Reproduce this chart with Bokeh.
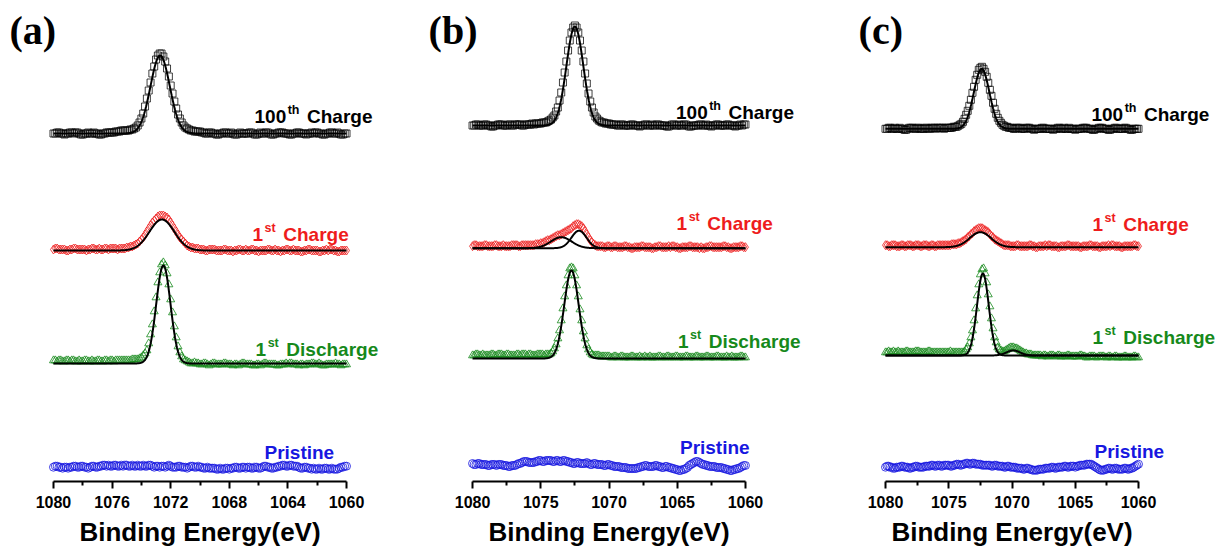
import numpy as np
from bokeh.plotting import figure
from bokeh.layouts import row
from bokeh.models import Range1d, FixedTicker
from bokeh.core.properties import value
from bokeh.embed import file_html
from bokeh.resources import INLINE

# ---------------- data: binding energy grid (eV) ----------------
ENERGY = [
    1080.0, 1079.875, 1079.75, 1079.625, 1079.5, 1079.375, 1079.25, 1079.125,
    1079.0, 1078.875, 1078.75, 1078.625, 1078.5, 1078.375, 1078.25, 1078.125,
    1078.0, 1077.875, 1077.75, 1077.625, 1077.5, 1077.375, 1077.25, 1077.125,
    1077.0, 1076.875, 1076.75, 1076.625, 1076.5, 1076.375, 1076.25, 1076.125,
    1076.0, 1075.875, 1075.75, 1075.625, 1075.5, 1075.375, 1075.25, 1075.125,
    1075.0, 1074.875, 1074.75, 1074.625, 1074.5, 1074.375, 1074.25, 1074.125,
    1074.0, 1073.875, 1073.75, 1073.625, 1073.5, 1073.375, 1073.25, 1073.125,
    1073.0, 1072.875, 1072.75, 1072.625, 1072.5, 1072.375, 1072.25, 1072.125,
    1072.0, 1071.875, 1071.75, 1071.625, 1071.5, 1071.375, 1071.25, 1071.125,
    1071.0, 1070.875, 1070.75, 1070.625, 1070.5, 1070.375, 1070.25, 1070.125,
    1070.0, 1069.875, 1069.75, 1069.625, 1069.5, 1069.375, 1069.25, 1069.125,
    1069.0, 1068.875, 1068.75, 1068.625, 1068.5, 1068.375, 1068.25, 1068.125,
    1068.0, 1067.875, 1067.75, 1067.625, 1067.5, 1067.375, 1067.25, 1067.125,
    1067.0, 1066.875, 1066.75, 1066.625, 1066.5, 1066.375, 1066.25, 1066.125,
    1066.0, 1065.875, 1065.75, 1065.625, 1065.5, 1065.375, 1065.25, 1065.125,
    1065.0, 1064.875, 1064.75, 1064.625, 1064.5, 1064.375, 1064.25, 1064.125,
    1064.0, 1063.875, 1063.75, 1063.625, 1063.5, 1063.375, 1063.25, 1063.125,
    1063.0, 1062.875, 1062.75, 1062.625, 1062.5, 1062.375, 1062.25, 1062.125,
    1062.0, 1061.875, 1061.75, 1061.625, 1061.5, 1061.375, 1061.25, 1061.125,
    1061.0, 1060.875, 1060.75, 1060.625, 1060.5, 1060.375, 1060.25, 1060.125,
    1060.0]

# ---- panel (a) intensities (a.u., above each trace's fitted background) ----
A_100TH = [
    0, 0, 1, 1, 0, 0, -1, 0,   0, 1, 1, 0, 1, 1, 0, -1,   -1, 0, 0, 1, 0, 0, 1, 0,
    0, -1, -1, 0, 0, 1, 1, 1,   1, 1, 2, 2, 2, 3, 3, 3,   3, 3, 4, 4, 5, 6, 8, 11,
    15, 20, 27, 35, 43, 51, 60, 67,   74, 78, 80, 80, 77, 72, 65, 57,
    48, 40, 32, 25, 19, 15, 11, 8,   6, 5, 4, 3, 3, 2, 2, 2,   2, 1, 1, 0, 0, 1, 1, 0,
    0, -1, -1, 0, 0, 1, 1, 0,   0, 1, 0, -1, -1, 0, 1, 0,   0, 0, 0, 1, 1, 0, -1, -1,
    0, 1, 0, 0, 1, 1, 0, -1,   -1, 0, 0, 1, 1, 1, 0, 0,   0, -1, -1, 0, 0, 1, 1, 0,
    0, 0, -1, 0, 0, 1, 0, 1,   1, 0, 0, -1, -1, 0, 0, 1,   1, 0, 0, 1, 0, -1, -1, 0,
    0]
A_1ST_CH = [
    1, 2, 2, 1, 1, 1, 1, 0,   0, 1, 1, 2, 2, 1, 1, 1,   1, 1, 0, 1, 1, 2, 2, 1,
    1, 2, 1, 1, 2, 2, 1, 2,   2, 2, 2, 1, 2, 2, 2, 2,   3, 3, 4, 4, 5, 6, 7, 9,
    11, 13, 16, 19, 22, 25, 28, 30,   32, 34, 35, 35, 35, 34, 33, 31,
    28, 25, 22, 19, 16, 13, 11, 9,   7, 5, 4, 3, 3, 2, 2, 2,   1, 1, 1, 0, 0, 1, 1, 1,
    1, 0, 0, 0, 0, 1, 1, 0,   0, 0, -1, 0, 0, 1, 1, 0,   0, 1, 0, 0, 1, 1, 0, 0,
    -1, 0, 0, 0, 0, 1, 1, 0,   0, 1, 0, 0, -1, 0, 0, 1,   1, 0, 0, 1, 0, 0, 0, -1,
    -1, 0, 0, 1, 1, 0, 0, 0,   0, -1, -1, 0, 0, 1, 0, 1,   1, 0, 0, -1, -1, 0, 0, 0,
    0]
A_1ST_DIS = [
    3, 3, 2, 3, 3, 2, 2, 3,   3, 2, 3, 3, 2, 2, 3, 2,   2, 3, 3, 2, 2, 3, 2, 2,
    3, 3, 2, 2, 3, 3, 2, 3,   3, 2, 3, 3, 3, 3, 3, 3,   3, 3, 3, 4, 4, 4, 4, 5,
    6, 8, 10, 13, 20, 29, 39, 52,   66, 81, 91, 99, 101, 98, 90, 79,
    64, 51, 37, 26, 17, 11, 7, 4,   3, 2, 1, 0, 0, 1, 0, 0,   -1, -1, 0, 0, -1, -2, -1, 0,
    0, -1, -1, -1, -1, 0, 0, -1,   -1, -1, -2, -1, -1, -2, -1, 0,   0, -1, -1, -1, -1, -2, -2, -1,
    -1, -2, -1, 0, 0, -1, -1, -1,   -1, -1, -2, -2, -1, -1, -1, 0,   -1, 0, 0, -1, -1, -1, -2, -1,
    -1, -2, -1, -1, -1, 0, 0, -1,   -1, 0, -1, -2, -2, -1, -1, -1,   -1, -1, 0, -1, -1, -2, -1, -1,
    -1]
A_PRIST = [
    0, 1, 1, 0, 0, -1, 0, 0,   -1, 0, 0, 1, 1, 0, 0, 1,   1, 0, 0, -1, 0, 1, 1, 0,
    0, 1, 1, 2, 2, 1, 2, 1,   1, 2, 2, 1, 1, 2, 1, 2,   2, 1, 1, 2, 1, 1, 2, 1,
    1, 2, 1, 1, 2, 2, 1, 0,   1, 1, 0, 1, 1, 0, 1, 2,   1, 0, 0, 0, 1, 1, 0, 0,
    0, -1, 0, 1, 1, 0, 0, 1,   0, 0, -1, -1, 0, -1, -1, -1,   -1, -2, -2, -1, -2, -2, -1, -1,
    -2, -1, -1, 0, 0, -1, -1, 0,   0, -1, 0, 0, -1, -1, 0, 0,   -1, -1, 0, 1, 1, 0, 0, -1,
    -1, 0, 0, 1, 1, 2, 2, 1,   1, 2, 2, 1, 1, 1, 0, -1,   -1, 0, 0, -1, -1, -2, -1, -2,
    -2, -1, -2, -2, -1, -1, -2, -2,   -1, -2, -2, -2, -1, 0, 0, 1,
    1]

# ---- panel (b) ----
B_100TH = [
    0, 0, 1, 1, 0, 0, 0, 1,   1, 0, 0, -1, -1, 0, 0, 1,   1, 1, 0, 0, 0, 1, 1, 0,
    0, 1, 1, 1, 1, 0, 0, 1,   1, 1, 1, 2, 1, 2, 2, 2,   2, 3, 3, 3, 4, 5, 6, 8,
    10, 14, 18, 25, 33, 43, 53, 64,   75, 85, 93, 98, 100, 98, 93, 85,
    75, 64, 52, 42, 32, 24, 18, 13,   9, 7, 5, 4, 3, 3, 2, 2,   2, 1, 1, 1, 1, 0, 0, 1,
    1, 0, 0, 0, 0, 1, 1, 0,   0, 0, -1, 0, 0, 1, 1, 0,   0, 1, 0, 0, 1, 1, 0, 0,
    0, 0, -1, -1, 0, 1, 1, 0,   0, 1, 0, 0, 1, 1, 0, -1,   -1, 0, 0, 0, 0, 1, 1, 0,
    0, 1, 0, 0, -1, 0, 0, 1,   1, 0, 0, 0, 0, 1, 1, 0,   0, 0, -1, 0, 0, 1, 0, 1,
    1]
B_1ST_CH = [
    2, 3, 3, 2, 2, 2, 2, 3,   3, 2, 2, 2, 2, 3, 3, 2,   2, 2, 3, 2, 2, 2, 2, 3,
    3, 3, 3, 2, 2, 3, 3, 3,   3, 3, 3, 3, 3, 4, 4, 4,   5, 5, 6, 7, 8, 8, 9, 10,
    11, 12, 13, 13, 14, 15, 16, 17,   18, 19, 20, 22, 23, 24, 24, 23,
    22, 20, 17, 14, 11, 8, 6, 4,   3, 2, 2, 2, 2, 1, 1, 2,   2, 1, 1, 2, 2, 1, 1, 1,
    1, 2, 2, 1, 1, 0, 0, 1,   1, 1, 1, 2, 2, 1, 1, 1,   1, 0, 0, 1, 1, 2, 2, 1,
    1, 1, 1, 2, 1, 2, 2, 1,   1, 0, 0, 1, 1, 1, 1, 2,   2, 1, 1, 1, 1, 0, 1, 0,
    0, 1, 1, 2, 2, 1, 1, 1,   1, 1, 1, 2, 2, 1, 1, 0,   0, 1, 1, 1, 1, 2, 2, 1,
    1]
B_1ST_DIS = [
    3, 3, 4, 4, 3, 3, 4, 3,   3, 3, 3, 4, 4, 3, 3, 4,   4, 4, 3, 3, 4, 4, 3, 3,
    3, 3, 4, 4, 3, 4, 4, 4,   3, 4, 4, 3, 3, 3, 4, 4,   4, 4, 3, 4, 4, 4, 5, 7,
    10, 14, 20, 28, 38, 50, 62, 73,   83, 90, 91, 90, 83, 73, 62, 49,
    38, 27, 20, 13, 9, 6, 4, 3,   3, 3, 3, 2, 2, 2, 2, 2,   2, 1, 1, 2, 2, 1, 1, 2,
    2, 1, 1, 1, 1, 2, 2, 1,   1, 1, 2, 1, 1, 2, 1, 1,   2, 1, 1, 1, 1, 2, 2, 1,
    1, 1, 2, 2, 1, 1, 1, 2,   2, 1, 1, 1, 1, 2, 2, 1,   1, 1, 1, 2, 2, 1, 1, 1,
    1, 2, 2, 1, 1, 1, 1, 2,   2, 1, 1, 1, 1, 2, 1, 1,   2, 1, 1, 1, 1, 2, 2, 1,
    1]
B_PRIST = [
    2, 1, 1, 2, 2, 1, 1, 1,   1, 0, 0, 1, 1, 1, 0, 1,   1, 1, 0, 0, 0, -1, -1, 0,
    0, 0, 1, 2, 2, 3, 4, 4,   4, 3, 3, 3, 3, 4, 4, 5,   5, 4, 4, 5, 5, 5, 5, 4,
    4, 5, 5, 4, 4, 5, 5, 4,   4, 3, 3, 2, 2, 3, 3, 2,   2, 2, 2, 3, 2, 1, 1, 2,
    2, 1, 1, 1, 1, 0, 0, 1,   1, 0, 0, -1, -1, -1, -1, -2,   -2, -2, -2, -3, -3, -3, -3, -3,
    -3, -2, -2, -1, -1, 0, 0, -1,   -1, -1, -1, 0, 0, -1, -1, -2,   -2, -1, -1, -2, -2, -3, -3, -4,
    -4, -5, -5, -4, -4, -3, -2, 0,   1, 2, 3, 4, 4, 3, 2, 1,   1, 0, 0, -1, -1, -1, -1, -2,
    -2, -2, -2, -3, -3, -4, -4, -5,   -5, -4, -4, -3, -3, -2, -1, 0,
    0]

# ---- panel (c) ----
C_100TH = [
    0, 0, 1, 1, 0, 0, 1, 0,   0, 1, 0, 0, -1, -1, 0, 1,   1, 1, 0, 0, 1, 1, 0, 0,
    0, 1, 1, 0, 0, 1, 1, 1,   0, 1, 1, 1, 1, 0, 1, 1,   1, 1, 1, 2, 2, 2, 3, 4,
    5, 7, 10, 14, 18, 23, 29, 36,   42, 49, 54, 59, 61, 62, 60, 57,
    52, 46, 39, 33, 26, 20, 15, 11,   8, 6, 4, 3, 2, 2, 1, 1,   1, 0, 0, 1, 1, 1, 0, 0,
    0, 1, 1, 1, 0, 0, -1, 0,   0, 0, 0, 1, 1, 0, 0, 0,   0, 0, -1, 0, 0, 1, 1, 0,
    0, 1, 0, 0, 1, 0, 0, 0,   -1, 0, 0, 0, 0, 1, 1, 1,   0, 0, 0, -1, -1, 0, 0, 1,
    1, 1, 0, 0, 0, -1, -1, 0,   0, 1, 1, 0, 0, 0, 0, 1,   1, 0, 0, -1, -1, 0, 0, 0,
    0]
C_1ST_CH = [
    2, 2, 1, 1, 2, 2, 2, 1,   1, 1, 2, 2, 1, 1, 2, 2,   2, 1, 1, 2, 2, 2, 1, 1,
    2, 2, 2, 1, 1, 2, 2, 1,   1, 2, 2, 2, 2, 2, 2, 2,   2, 2, 3, 3, 3, 3, 4, 4,
    5, 6, 7, 8, 10, 11, 13, 14,   16, 17, 18, 19, 19, 19, 18, 17,
    16, 15, 13, 11, 10, 8, 7, 6,   5, 4, 3, 2, 2, 2, 2, 1,   1, 1, 1, 2, 2, 1, 1, 1,
    1, 1, 1, 2, 2, 1, 1, 0,   0, 1, 1, 1, 1, 2, 1, 2,   2, 1, 1, 1, 1, 0, 0, 1,
    1, 1, 1, 2, 2, 1, 1, 1,   1, 1, 1, 0, 0, 1, 1, 1,   1, 2, 2, 1, 1, 1, 1, 0,
    0, 1, 1, 1, 1, 2, 1, 2,   2, 1, 1, 1, 1, 0, 0, 1,   1, 1, 1, 1, 1, 2, 2, 1,
    1]
C_1ST_DIS = [
    3, 3, 4, 3, 3, 4, 3, 3,   4, 3, 3, 3, 3, 4, 4, 3,   3, 3, 3, 4, 4, 4, 3, 3,
    3, 3, 3, 4, 4, 3, 3, 3,   3, 3, 3, 3, 3, 3, 3, 3,   3, 4, 3, 3, 3, 3, 3, 3,
    3, 3, 4, 6, 8, 12, 18, 25,   35, 47, 60, 71, 81, 86, 87, 82,
    73, 61, 49, 37, 27, 18, 13, 8,   6, 5, 4, 4, 5, 6, 7, 8,   8, 8, 7, 7, 6, 5, 4, 3,
    2, 2, 1, 1, 1, 0, 0, 0,   0, 0, 0, -1, 0, 0, -1, -1,   0, 0, 0, -1, -1, 0, 0, -1,
    -1, -1, -1, 0, 0, -1, -1, -1,   -1, -1, -1, 0, 0, -1, -1, -2,   -2, -1, -1, -1, -1, -2, -2, -1,
    -1, -1, -1, -2, -2, -1, -1, -2,   -2, -1, -1, -2, -2, -2, -2, -1,   -1, -2, -2, -2, -2, -1, -1, -2,
    -2]
C_PRIST = [
    0, 1, 1, 0, 0, -1, -1, 0,   0, 0, 1, 1, 0, 0, 0, -1,   -1, 0, 0, 1, 1, 0, 0, 0,
    0, 1, 1, 1, 1, 2, 2, 1,   1, 2, 2, 1, 1, 2, 2, 2,   2, 1, 1, 2, 2, 3, 3, 2,
    2, 3, 3, 4, 4, 3, 3, 4,   4, 3, 3, 3, 3, 2, 2, 2,   2, 2, 2, 1, 1, 2, 2, 1,
    1, 1, 1, 0, 0, 1, 1, 0,   0, 0, 0, -1, -1, -1, -1, -2,   -2, -1, -1, -2, -2, -3, -3, -3,
    -3, -2, -2, -2, -2, -1, -1, -1,   -1, 0, 0, -1, -1, 0, 0, 0,   0, 1, 1, 0, 0, 1, 1, 1,
    0, 1, 1, 2, 2, 2, 2, 3,   3, 3, 3, 2, 1, 0, -1, -2,   -3, -3, -3, -2, -2, -1, -1, -2,
    -2, -1, -1, -2, -2, -2, -2, -1,   -1, -2, -2, -1, -1, 0, 1, 2,
    3]

# fitted peak components: [centre (eV), FWHM (eV), height]
A_100TH_FIT = [[1072.72, 1.55, 78]]
A_1ST_CH_FIT = [[1072.6, 2.0, 31]]
A_1ST_DIS_FIT = [[1072.5, 1.15, 98]]
B_100TH_FIT = [[1072.5, 1.45, 99]]
B_1ST_CH_FIT = [[1072.2, 1.3, 17.5], [1073.5, 1.8, 11]]
B_1ST_DIS_FIT = [[1072.75, 1.25, 88]]
C_100TH_FIT = [[1072.4, 1.45, 60]]
C_1ST_CH_FIT = [[1072.5, 2.0, 15]]
C_1ST_DIS_FIT = [[1072.3, 1.1, 82], [1069.9, 1.3, 5]]

A_TICKS = [1080, 1076, 1072, 1068, 1064, 1060]
A_MINOR = [1078, 1074, 1070, 1066, 1062]
BC_TICKS = [1080, 1075, 1070, 1065, 1060]
BC_MINOR = [1077.5, 1072.5, 1067.5, 1062.5]

FONT = value("Liberation Sans")
FIT_E = np.linspace(1080, 1060, 801)
RED, GREEN, BLUE = "#ee1c1c", "#16891b", "#1717e0"


def gauss(e, c, w, h):
    return h * np.exp(-4.0 * np.log(2.0) * ((e - c) / w) ** 2)


def make_panel(x0, x1, fw, bl, br, ticks, minors, tag, tag_x, series, labels):
    p = figure(frame_width=fw, frame_height=473,
               x_range=Range1d(x0, x1), y_range=Range1d(0, 473),
               output_backend="svg", toolbar_location=None, y_axis_location=None,
               min_border_left=bl, min_border_right=br, min_border_top=8,
               min_border_bottom=65, outline_line_color=None,
               background_fill_color="white", border_fill_color="white")
    p.grid.visible = False
    ax = p.xaxis[0]
    ax.ticker = FixedTicker(ticks=ticks, minor_ticks=minors)
    ax.bounds = (1060, 1080)
    ax.axis_line_width = 2
    ax.major_tick_line_width = 2
    ax.minor_tick_line_width = 2
    ax.major_tick_out = 7
    ax.major_tick_in = 0
    ax.minor_tick_out = 4
    ax.minor_tick_in = 0
    ax.major_label_standoff = 7
    ax.major_label_text_font = "Liberation Sans"
    ax.major_label_text_font_style = "bold"
    ax.major_label_text_font_size = "16px"
    ax.major_label_text_color = "black"
    ax.axis_label = "Binding Energy(eV)"
    ax.axis_label_text_font = "Liberation Sans"
    ax.axis_label_text_font_style = "bold"
    ax.axis_label_text_font_size = "26px"
    ax.axis_label_text_color = "black"
    ax.axis_label_standoff = 6

    e = np.array(ENERGY)
    for vals, off, marker, size, color, alpha, fits in series:
        y = off + np.array(vals, dtype=float)
        p.scatter(e, y, marker=marker, size=size, fill_color=None,
                  line_color=color, line_width=1, line_alpha=alpha)
        for c, w, h in fits:
            p.line(FIT_E, off + gauss(FIT_E, c, w, h), line_color="black", line_width=2)

    p.text(x=[tag_x], y=[451], text=[tag], text_font=value("Liberation Serif"),
           text_font_style="bold", text_font_size="40px", text_color="black",
           text_baseline="alphabetic", text_align="left")

    for x, y, main, sup, rest, color in labels:
        y = y + 6
        kw = dict(text_font=FONT, text_font_style="bold", text_color=color,
                  text_baseline="alphabetic", text_align="left")
        p.text(x=[x], y=[y], text=[main], text_font_size="19px", **kw)
        if sup:
            mw = 31.7 if main == "100" else 10.6
            sw = 11.3 if sup == "th" else 10.7
            p.text(x=[x], y=[y], text=[sup], text_font_size="12.5px",
                   x_offset=mw + 1.5, y_offset=-7, **kw)
            p.text(x=[x], y=[y], text=[rest], text_font_size="19px",
                   x_offset=mw + 1.5 + sw + 8, **kw)
    return p


pa = make_panel(1083.07, 1056.93, 383, 8, 21, A_TICKS, A_MINOR, "(a)", 1083.0, [
    (A_100TH, 348, "square", 7, "black", 0.75, A_100TH_FIT),
    (A_1ST_CH, 231, "diamond", 9, RED, 0.8, A_1ST_CH_FIT),
    (A_1ST_DIS, 118, "triangle", 8, GREEN, 0.8, A_1ST_DIS_FIT),
    (A_PRIST, 14.3, "circle", 8, BLUE, 0.8, []),
], [
    (1066.28, 359, "100", "th", "Charge", "black"),
    (1066.42, 241, "1", "st", "Charge", RED),
    (1066.21, 126, "1", "st", "Discharge", GREEN),
    (1065.60, 23, "Pristine", None, None, BLUE),
])

pb = make_panel(1084.40, 1055.60, 393, 0, 1, BC_TICKS, BC_MINOR, "(b)", 1083.22, [
    (B_100TH, 356, "square", 7, "black", 0.75, B_100TH_FIT),
    (B_1ST_CH, 233.3, "diamond", 9, RED, 0.8, B_1ST_CH_FIT),
    (B_1ST_DIS, 123, "triangle", 8, GREEN, 0.8, B_1ST_DIS_FIT),
    (B_PRIST, 16, "circle", 8, BLUE, 0.8, []),
], [
    (1065.09, 363, "100", "th", "Charge", "black"),
    (1065.05, 252, "1", "st", "Charge", RED),
    (1064.95, 134, "1", "st", "Discharge", GREEN),
    (1064.80, 28, "Pristine", None, None, BLUE),
])

pc = make_panel(1086.245, 1053.755, 411, 0, 0, BC_TICKS, BC_MINOR, "(c)", 1082.13, [
    (C_100TH, 352.7, "square", 7, "black", 0.75, C_100TH_FIT),
    (C_1ST_CH, 234.3, "diamond", 9, RED, 0.8, C_1ST_CH_FIT),
    (C_1ST_DIS, 126, "triangle", 8, GREEN, 0.8, C_1ST_DIS_FIT),
    (C_PRIST, 14.3, "circle", 8, BLUE, 0.8, []),
], [
    (1063.72, 361, "100", "th", "Charge", "black"),
    (1063.64, 251, "1", "st", "Charge", RED),
    (1063.64, 138, "1", "st", "Discharge", GREEN),
    (1063.48, 24, "Pristine", None, None, BLUE),
])

layout = row(pa, pb, pc, spacing=0)
open("out.html", "w").write(file_html(layout, INLINE))
